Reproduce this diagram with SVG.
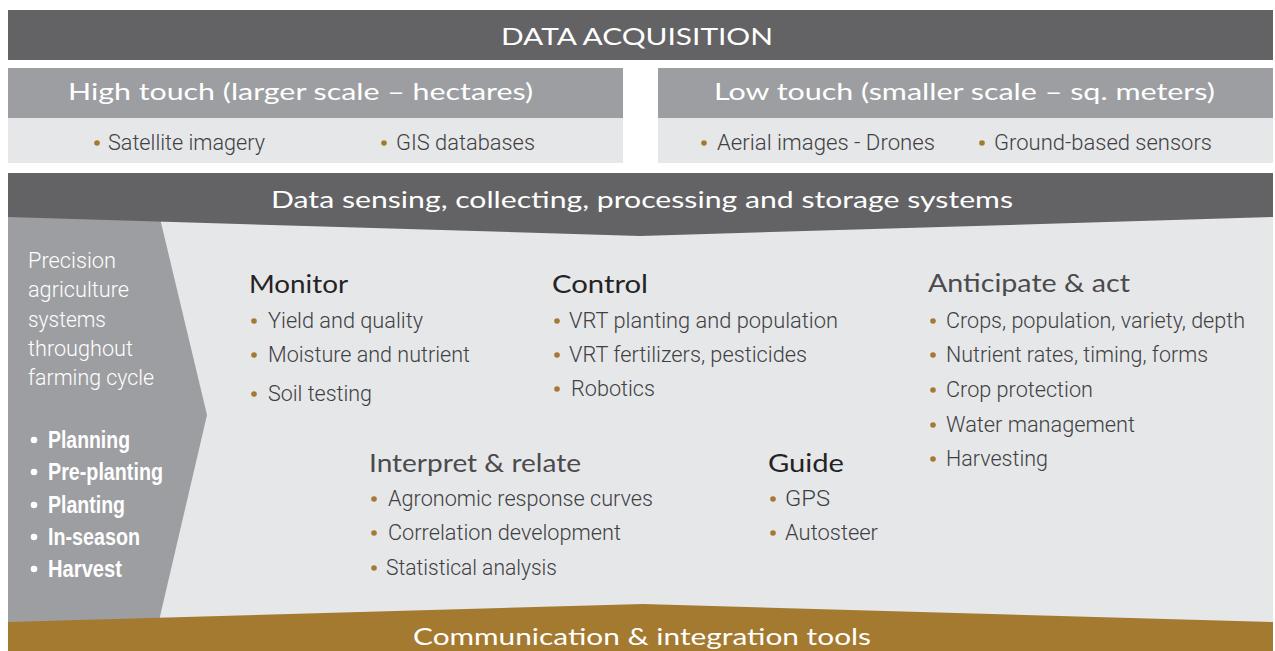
<svg xmlns="http://www.w3.org/2000/svg" width="1275" height="651" viewBox="0 0 1275 651">
<style>
.hd{font-family:Lato,"Open Sans","Liberation Sans",sans-serif;font-size:24px;fill:#ffffff;text-anchor:start}
.ttl{font-family:Lato,"Open Sans","Liberation Sans",sans-serif;font-size:25px}
.ttlA{fill:#252324}
.ttlB{fill:#4b4b4d}
.it{font-family:Roboto,"Liberation Sans",Arial,sans-serif;font-weight:300;font-size:21.5px;fill:#404042}
.lt{font-family:Roboto,"Liberation Sans",Arial,sans-serif;font-weight:300;font-size:21.5px;fill:#ffffff}
.st{font-family:"Liberation Sans Narrow","Liberation Sans",Arial,sans-serif;font-size:23px;font-weight:bold;fill:#ffffff}
.dot{fill:#a47a31}
.wdot{fill:#ffffff}
</style>
<rect x="0" y="0" width="1275" height="651" fill="#ffffff"/>

<g id="data-acquisition">
<rect x="8" y="10" width="1265" height="50" fill="#636365"/>
<text class="hd" x="501" y="45" textLength="272" lengthAdjust="spacingAndGlyphs">DATA ACQUISITION</text>
</g>

<g id="high-touch">
<rect x="8" y="68" width="615" height="50" fill="#9d9ea1"/>
<rect x="8" y="118" width="615" height="45" fill="#e6e7e8"/>
<text class="hd" x="68" y="100" textLength="465" lengthAdjust="spacingAndGlyphs">High touch (larger scale – hectares)</text>
<circle class="dot" cx="97" cy="143" r="2.8"/>
<text class="it" x="108" y="150" textLength="157" lengthAdjust="spacingAndGlyphs">Satellite imagery</text>
<circle class="dot" cx="384" cy="143" r="2.8"/>
<text class="it" x="396" y="150" textLength="139" lengthAdjust="spacingAndGlyphs">GIS databases</text>
</g>

<g id="low-touch">
<rect x="658" y="68" width="615" height="50" fill="#9d9ea1"/>
<rect x="658" y="118" width="615" height="45" fill="#e6e7e8"/>
<text class="hd" x="714" y="100" textLength="501" lengthAdjust="spacingAndGlyphs">Low touch (smaller scale – sq. meters)</text>
<circle class="dot" cx="704" cy="143" r="2.8"/>
<text class="it" x="717" y="150" textLength="218" lengthAdjust="spacingAndGlyphs">Aerial images - Drones</text>
<circle class="dot" cx="982" cy="143" r="2.8"/>
<text class="it" x="994" y="150" textLength="218" lengthAdjust="spacingAndGlyphs">Ground-based sensors</text>
</g>

<g id="body-background">
<rect x="8" y="210" width="1265" height="420" fill="#e6e7e9"/>
</g>

<g id="farming-cycle">
<polygon points="8,210 158,210 207,415 158,625 8,625" fill="#9d9ea1"/>
<text class="lt" x="28" y="268" textLength="88" lengthAdjust="spacingAndGlyphs">Precision</text>
<text class="lt" x="28" y="297" textLength="101" lengthAdjust="spacingAndGlyphs">agriculture</text>
<text class="lt" x="28" y="327" textLength="78" lengthAdjust="spacingAndGlyphs">systems</text>
<text class="lt" x="28" y="356" textLength="105" lengthAdjust="spacingAndGlyphs">throughout</text>
<text class="lt" x="28" y="385" textLength="126" lengthAdjust="spacingAndGlyphs">farming cycle</text>
<circle class="wdot" cx="34" cy="440" r="3.3"/>
<text class="st" x="48" y="448" textLength="82" lengthAdjust="spacingAndGlyphs">Planning</text>
<circle class="wdot" cx="34" cy="472" r="3.3"/>
<text class="st" x="48" y="480" textLength="115" lengthAdjust="spacingAndGlyphs">Pre-planting</text>
<circle class="wdot" cx="34" cy="505" r="3.3"/>
<text class="st" x="48" y="513" textLength="77" lengthAdjust="spacingAndGlyphs">Planting</text>
<circle class="wdot" cx="34" cy="537" r="3.3"/>
<text class="st" x="48" y="545" textLength="92" lengthAdjust="spacingAndGlyphs">In-season</text>
<circle class="wdot" cx="34" cy="569" r="3.3"/>
<text class="st" x="48" y="577" textLength="74" lengthAdjust="spacingAndGlyphs">Harvest</text>
</g>

<g id="data-sensing">
<polygon points="8,173 1273,173 1273,217 640,236 8,217" fill="#636365"/>
<text class="hd" x="271" y="208" textLength="742" lengthAdjust="spacingAndGlyphs">Data sensing, collecting, processing and storage systems</text>
</g>

<g id="communication">
<polygon points="8,622 643,604 1273,622 1273,651 8,651" fill="#a47a31"/>
<text class="hd" x="413" y="645" textLength="458" lengthAdjust="spacingAndGlyphs">Communication &amp; integration tools</text>
</g>

<g id="monitor">
<text class="ttl ttlA" x="249" y="293" textLength="99" lengthAdjust="spacingAndGlyphs">Monitor</text>
<circle class="dot" cx="254" cy="321" r="2.8"/>
<text class="it" x="268" y="328" textLength="155" lengthAdjust="spacingAndGlyphs">Yield and quality</text>
<circle class="dot" cx="254" cy="355" r="2.8"/>
<text class="it" x="268" y="362" textLength="202" lengthAdjust="spacingAndGlyphs">Moisture and nutrient</text>
<circle class="dot" cx="254" cy="394" r="2.8"/>
<text class="it" x="268" y="401" textLength="104" lengthAdjust="spacingAndGlyphs">Soil testing</text>
</g>

<g id="control">
<text class="ttl ttlA" x="552" y="293" textLength="96" lengthAdjust="spacingAndGlyphs">Control</text>
<circle class="dot" cx="557" cy="321" r="2.8"/>
<text class="it" x="569" y="328" textLength="269" lengthAdjust="spacingAndGlyphs">VRT planting and population</text>
<circle class="dot" cx="557" cy="355" r="2.8"/>
<text class="it" x="569" y="362" textLength="238" lengthAdjust="spacingAndGlyphs">VRT fertilizers, pesticides</text>
<circle class="dot" cx="557" cy="389" r="2.8"/>
<text class="it" x="571" y="396" textLength="84" lengthAdjust="spacingAndGlyphs">Robotics</text>
</g>

<g id="anticipate">
<text class="ttl ttlB" x="928" y="292" textLength="202" lengthAdjust="spacingAndGlyphs">Anticipate &amp; act</text>
<circle class="dot" cx="933" cy="321" r="2.8"/>
<text class="it" x="946" y="328" textLength="299" lengthAdjust="spacingAndGlyphs">Crops, population, variety, depth</text>
<circle class="dot" cx="933" cy="355" r="2.8"/>
<text class="it" x="946" y="362" textLength="262" lengthAdjust="spacingAndGlyphs">Nutrient rates, timing, forms</text>
<circle class="dot" cx="933" cy="390" r="2.8"/>
<text class="it" x="946" y="397" textLength="147" lengthAdjust="spacingAndGlyphs">Crop protection</text>
<circle class="dot" cx="933" cy="425" r="2.8"/>
<text class="it" x="946" y="432" textLength="189" lengthAdjust="spacingAndGlyphs">Water management</text>
<circle class="dot" cx="933" cy="459" r="2.8"/>
<text class="it" x="946" y="466" textLength="102" lengthAdjust="spacingAndGlyphs">Harvesting</text>
</g>

<g id="interpret">
<text class="ttl ttlB" x="369" y="472" textLength="212" lengthAdjust="spacingAndGlyphs">Interpret &amp; relate</text>
<circle class="dot" cx="374" cy="499" r="2.8"/>
<text class="it" x="388" y="506" textLength="265" lengthAdjust="spacingAndGlyphs">Agronomic response curves</text>
<circle class="dot" cx="374" cy="533" r="2.8"/>
<text class="it" x="388" y="540" textLength="233" lengthAdjust="spacingAndGlyphs">Correlation development</text>
<circle class="dot" cx="374" cy="568" r="2.8"/>
<text class="it" x="386" y="575" textLength="171" lengthAdjust="spacingAndGlyphs">Statistical analysis</text>
</g>

<g id="guide">
<text class="ttl ttlA" x="768" y="472" textLength="76" lengthAdjust="spacingAndGlyphs">Guide</text>
<circle class="dot" cx="773" cy="499" r="2.8"/>
<text class="it" x="785" y="506" textLength="45" lengthAdjust="spacingAndGlyphs">GPS</text>
<circle class="dot" cx="773" cy="533" r="2.8"/>
<text class="it" x="785" y="540" textLength="93" lengthAdjust="spacingAndGlyphs">Autosteer</text>
</g>

<g id="connectors"></g>
</svg>
